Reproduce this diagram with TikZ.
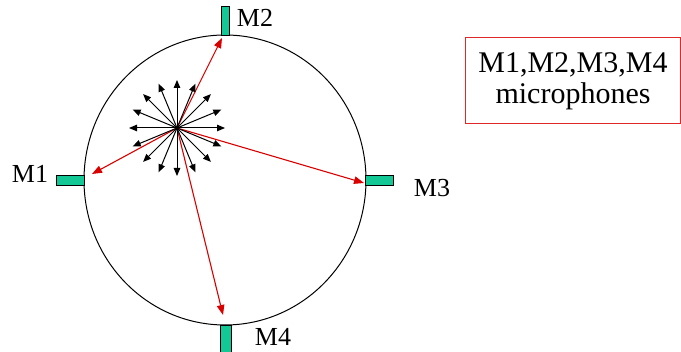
\documentclass[tikz,border=0pt]{standalone}
\usepackage{fontspec}
\setmainfont{Liberation Serif}
\usetikzlibrary{arrows.meta,calc}
\definecolor{micgreen}{RGB}{20,200,150}
\definecolor{boxred}{RGB}{225,40,40}
\begin{document}
\begin{tikzpicture}[x=1pt,y=-1pt,
  mic/.style={draw=black,fill=micgreen,line width=0.9pt},
  ray/.style={black,line width=1pt,-{Triangle[length=8pt,width=6.5pt]}},
  redray/.style={red!85!black,line width=1.1pt,-{Triangle[length=10pt,width=7.5pt]}},
  lbl/.style={font=\fontsize{26}{28}\selectfont,inner sep=0pt},
  boxtext/.style={font=\fontsize{30}{35}\selectfont,align=center}]
\useasboundingbox (0,0) rectangle (681,352);
\draw[line width=1pt] (225,180) ellipse [x radius=141, y radius=145];
% microphones
\draw[mic] (221,6) rectangle (229,35);
\draw[mic] (56,175) rectangle (84,185);
\draw[mic] (365,175) rectangle (393,185);
\draw[mic] (220,325) rectangle (231,352);
% labels
\node[lbl] (m2) at (255,18) {M2};
\node[lbl] (m1) at (30,174) {M1};
\node[lbl] (m3) at (432,188) {M3};
\node[lbl] (m4) at (273,337) {M4};
% red arrows
\coordinate (c) at (177,128);
\coordinate (t2) at (222,38);
\coordinate (t1) at (92,174);
\coordinate (t3) at (364,183);
\coordinate (t4) at (223,315);
\foreach \t in {t1,t2,t3,t4} \draw[redray] (c) -- (\t);
% star
\foreach \i in {0,...,15} {
  \coordinate (s\i) at ($(c)+(\i*22.5:48)$);
  \draw[ray] (c) -- (s\i);
}
% legend box
\draw[boxred,line width=0.9pt] (465,37) rectangle (680.5,123);
\node[boxtext] (legend) at (573,81) {M1,M2,M3,M4\\[-4pt]microphones};
\end{tikzpicture}
\end{document}
